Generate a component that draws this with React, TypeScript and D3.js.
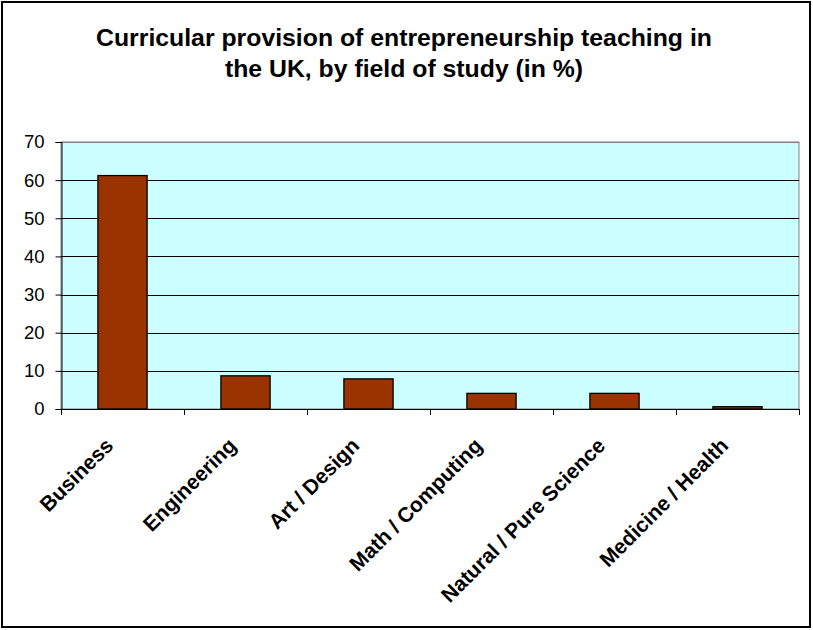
import { useRef, useEffect } from "react";
import * as d3 from "d3";

const categories = [
  "Business",
  "Engineering",
  "Art / Design",
  "Math / Computing",
  "Natural / Pure Science",
  "Medicine / Health",
];
const values = [61.2, 8.7, 7.9, 4.1, 4.1, 0.6];
const yTicks = [0, 10, 20, 30, 40, 50, 60, 70];
const titleLines = [
  "Curricular provision of entrepreneurship teaching in",
  "the UK, by field of study (in %)",
];

const App = () => {
  const svgRef = useRef<SVGSVGElement>(null);

  useEffect(() => {
    const svg = d3.select(svgRef.current);
    svg.selectAll("*").remove();

    const width = 813;
    const height = 630;
    const plot = { left: 61, right: 799, top: 142, bottom: 409 };
    const font = "'Liberation Sans', Arial, sans-serif";

    svg.attr("width", width).attr("height", height);

    // outer frame
    svg
      .append("rect")
      .attr("x", 2)
      .attr("y", 2)
      .attr("width", 808)
      .attr("height", 625)
      .attr("fill", "#fff")
      .attr("stroke", "#000")
      .attr("stroke-width", 2);

    // title
    svg
      .append("g")
      .selectAll("text")
      .data(titleLines)
      .join("text")
      .attr("x", 404)
      .attr("y", (d, i) => 46 + i * 31)
      .attr("text-anchor", "middle")
      .attr("font-family", font)
      .attr("font-weight", "bold")
      .attr("font-size", 24.8)
      .text((d) => d);

    const x = d3
      .scaleBand()
      .domain(categories)
      .range([plot.left, plot.right])
      .paddingInner(0.6)
      .paddingOuter(0.3);

    const y = d3.scaleLinear().domain([0, 70]).range([plot.bottom, plot.top]);

    // plot background
    svg
      .append("rect")
      .attr("x", plot.left)
      .attr("y", plot.top)
      .attr("width", plot.right - plot.left)
      .attr("height", plot.bottom - plot.top)
      .attr("fill", "#ccffff")
      .attr("stroke", "#808080")
      .attr("stroke-width", 1);

    // gridlines
    svg
      .append("g")
      .selectAll("line")
      .data(yTicks.filter((t) => t > 0))
      .join("line")
      .attr("x1", plot.left)
      .attr("x2", plot.right)
      .attr("y1", (d) => Math.round(y(d)) + 0.5)
      .attr("y2", (d) => Math.round(y(d)) + 0.5)
      .attr("stroke", (d) => (d === 70 ? "#808080" : "#000"))
      .attr("stroke-width", 1);

    // bars
    svg
      .append("g")
      .selectAll("rect")
      .data(values)
      .join("rect")
      .attr("x", (d, i) => x(categories[i])!)
      .attr("y", (d) => y(d))
      .attr("width", x.bandwidth())
      .attr("height", (d) => plot.bottom - y(d))
      .attr("fill", "#993300")
      .attr("stroke", "#000")
      .attr("stroke-width", 1.3);

    // y axis
    const yAxis = d3
      .axisLeft(y)
      .tickValues(yTicks)
      .tickSize(6)
      .tickPadding(11);
    const yg = svg
      .append("g")
      .attr("transform", `translate(${plot.left + 0.5},0)`)
      .call(yAxis);
    yg.select(".domain").attr("stroke", "#000");
    yg.selectAll("text")
      .attr("font-family", font)
      .attr("font-size", 18.5)
      .attr("fill", "#000");

    // x axis with ticks at category boundaries
    const step = x.step();
    const boundaries = d3.range(categories.length + 1).map(
      (i) => plot.left + i * step
    );
    const xg = svg.append("g");
    xg.append("line")
      .attr("x1", plot.left)
      .attr("x2", plot.right)
      .attr("y1", plot.bottom + 0.5)
      .attr("y2", plot.bottom + 0.5)
      .attr("stroke", "#000");
    xg.selectAll(".tick")
      .data(boundaries)
      .join("line")
      .attr("class", "tick")
      .attr("x1", (d) => Math.round(d) + 0.5)
      .attr("x2", (d) => Math.round(d) + 0.5)
      .attr("y1", plot.bottom)
      .attr("y2", plot.bottom + 6)
      .attr("stroke", "#000");

    xg.selectAll(".label")
      .data(categories)
      .join("text")
      .attr("class", "label")
      .attr("transform", (d) => {
        const cx = x(d)! + x.bandwidth() / 2 - 8;
        return `translate(${cx},${plot.bottom + 38}) rotate(-45)`;
      })
      .attr("text-anchor", "end")
      .attr("font-family", font)
      .attr("font-weight", "bold")
      .attr("font-size", 21)
      .text((d) => d);
  }, []);

  return (
    <>
      <style>{"body{margin:0}"}</style>
      <svg ref={svgRef} style={{ display: "block" }}></svg>
    </>
  );
};

export default App;
